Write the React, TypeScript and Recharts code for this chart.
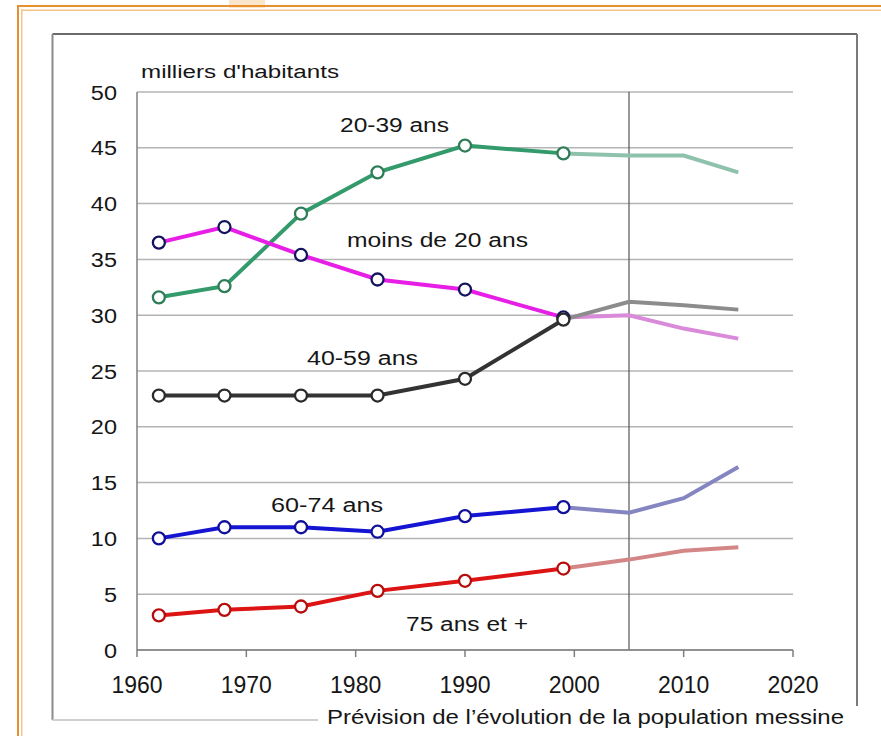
import { LineChart, Line, XAxis, YAxis, CartesianGrid, ReferenceLine } from 'recharts'

const YEARS = [1962, 1968, 1975, 1982, 1990, 1999, 2005, 2010, 2015]

// recensements (1962-1999)
const AGE_20_39 = [31.6, 32.6, 39.1, 42.8, 45.2, 44.5]
const UNDER_20 = [36.5, 37.9, 35.4, 33.2, 32.3, 29.8]
const AGE_40_59 = [22.8, 22.8, 22.8, 22.8, 24.3, 29.6]
const AGE_60_74 = [10.0, 11.0, 11.0, 10.6, 12.0, 12.8]
const AGE_75_PLUS = [3.1, 3.6, 3.9, 5.3, 6.2, 7.3]

// prévisions (1999-2015)
const AGE_20_39_PROJ = [44.5, 44.3, 44.3, 42.8]
const UNDER_20_PROJ = [29.8, 30.0, 28.8, 27.9]
const AGE_40_59_PROJ = [29.6, 31.2, 30.9, 30.5]
const AGE_60_74_PROJ = [12.8, 12.3, 13.6, 16.4]
const AGE_75_PLUS_PROJ = [7.3, 8.1, 8.9, 9.2]

const X_TICKS = [1960, 1970, 1980, 1990, 2000, 2010, 2020]
const Y_TICKS = [0, 5, 10, 15, 20, 25, 30, 35, 40, 45, 50]

const OBS_COUNT = AGE_20_39.length
const PROJ_START = OBS_COUNT - 1

const data = YEARS.map((year, i) => ({
  year,
  a2039: i < OBS_COUNT ? AGE_20_39[i] : undefined,
  u20: i < OBS_COUNT ? UNDER_20[i] : undefined,
  a4059: i < OBS_COUNT ? AGE_40_59[i] : undefined,
  a6074: i < OBS_COUNT ? AGE_60_74[i] : undefined,
  a75: i < OBS_COUNT ? AGE_75_PLUS[i] : undefined,
  a2039p: i >= PROJ_START ? AGE_20_39_PROJ[i - PROJ_START] : undefined,
  u20p: i >= PROJ_START ? UNDER_20_PROJ[i - PROJ_START] : undefined,
  a4059p: i >= PROJ_START ? AGE_40_59_PROJ[i - PROJ_START] : undefined,
  a6074p: i >= PROJ_START ? AGE_60_74_PROJ[i - PROJ_START] : undefined,
  a75p: i >= PROJ_START ? AGE_75_PLUS_PROJ[i - PROJ_START] : undefined,
}))

const FONT = "'Liberation Sans', Arial, sans-serif"
const INK = '#161616'

function ringDot(stroke: string) {
  return (props: any) => {
    const { cx, cy, index } = props
    if (cx == null || cy == null) return <g key={index} />
    return <circle key={index} cx={cx} cy={cy} r={6} fill="#fff" stroke={stroke} strokeWidth={2.3} />
  }
}

function YTick({ x, y, payload }: any) {
  return (
    <text
      transform={`translate(${x},${y + 7.5}) scale(1.12,1)`}
      textAnchor="end"
      fontFamily={FONT}
      fontSize={21}
      fill={INK}
    >
      {payload.value}
    </text>
  )
}

function XTick({ x, y, payload }: any) {
  return (
    <text x={x} y={y + 34} textAnchor="middle" fontFamily={FONT} fontSize={23} fill={INK}>
      {payload.value}
    </text>
  )
}

function Label({ x, y, len, size = 19.5, children }: any) {
  return (
    <text
      x={x}
      y={y}
      fontFamily={FONT}
      fontSize={size}
      fill={INK}
      textLength={len}
      lengthAdjust="spacingAndGlyphs"
    >
      {children}
    </text>
  )
}

export default function App() {
  return (
    <div style={{ position: 'absolute', left: 0, top: 0, width: 881, height: 736, background: '#fff' }}>
      {/* cadre */}
      <svg width={881} height={736} style={{ position: 'absolute', left: 0, top: 0 }}>
        <rect x={229} y={0} width={36} height={8} fill="#fbe6cc" />
        <rect x={17} y={5} width={864} height={2} fill="#e8902e" />
        <rect x={21} y={9.5} width={860} height={1.5} fill="#f5c48e" />
        <rect x={17} y={5} width={2} height={731} fill="#e8902e" />
        <rect x={21} y={9.5} width={1.5} height={727} fill="#f5c48e" />
        <line x1={52.5} y1={34} x2={857} y2={34} stroke="#6a6a6a" strokeWidth={2} />
        <line x1={52.5} y1={34} x2={52.5} y2={720} stroke="#8a8a8a" strokeWidth={2} />
        <line x1={857} y1={34} x2={857} y2={721} stroke="#7a7a7a" strokeWidth={2} />
        <line x1={52.5} y1={720} x2={318} y2={720} stroke="#d0d0d0" strokeWidth={2} />
      </svg>

      <div style={{ position: 'absolute', left: 0, top: 0 }}>
        <LineChart width={881} height={736} data={data} margin={{ top: 92, right: 88, left: 77, bottom: 46 }}>
          <CartesianGrid vertical={false} stroke="#b4b4b4" strokeWidth={1.5} />
          <XAxis
            type="number"
            dataKey="year"
            domain={[1960, 2020]}
            ticks={X_TICKS}
            height={40}
            stroke="#7f7f7f"
            strokeWidth={1.5}
            tickSize={7}
            tick={<XTick />}
            interval={0}
          />
          <YAxis
            domain={[0, 50]}
            ticks={Y_TICKS}
            width={60}
            stroke="#7f7f7f"
            strokeWidth={1.5}
            tickLine={false}
            tickMargin={14}
            tick={<YTick />}
            interval={0}
          />
          <ReferenceLine x={2005} stroke="#555" strokeWidth={1.2} />

          <Line dataKey="a2039p" stroke="#8fc2ad" strokeWidth={4} dot={false} isAnimationActive={false} />
          <Line dataKey="u20p" stroke="#d98ad9" strokeWidth={4} dot={false} isAnimationActive={false} />
          <Line dataKey="a4059p" stroke="#8c8c8c" strokeWidth={4} dot={false} isAnimationActive={false} />
          <Line dataKey="a6074p" stroke="#8585c2" strokeWidth={4} dot={false} isAnimationActive={false} />
          <Line dataKey="a75p" stroke="#d48585" strokeWidth={4} dot={false} isAnimationActive={false} />

          <Line dataKey="a2039" stroke="#339a6b" strokeWidth={4} dot={ringDot('#2e7d58')} isAnimationActive={false} />
          <Line dataKey="u20" stroke="#e61ee6" strokeWidth={4} dot={ringDot('#14145e')} isAnimationActive={false} />
          <Line dataKey="a4059" stroke="#333333" strokeWidth={4} dot={ringDot('#2a2a2a')} isAnimationActive={false} />
          <Line dataKey="a6074" stroke="#1414d2" strokeWidth={4} dot={ringDot('#10109a')} isAnimationActive={false} />
          <Line dataKey="a75" stroke="#dc1414" strokeWidth={4} dot={ringDot('#b80c0c')} isAnimationActive={false} />
        </LineChart>
      </div>

      {/* étiquettes */}
      <svg width={881} height={736} style={{ position: 'absolute', left: 0, top: 0, pointerEvents: 'none' }}>
        <Label x={141} y={78} len={198} size={18}>milliers d'habitants</Label>
        <Label x={340} y={132} len={109}>20-39 ans</Label>
        <Label x={347} y={247} len={181}>moins de 20 ans</Label>
        <Label x={307} y={365} len={111}>40-59 ans</Label>
        <Label x={271} y={512} len={112}>60-74 ans</Label>
        <Label x={406} y={631} len={122}>75 ans et +</Label>
        <rect x={320} y={706} width={540} height={30} fill="#fff" />
        <Label x={327} y={724} len={517} size={20}>Prévision de l’évolution de la population messine</Label>
      </svg>
    </div>
  )
}
